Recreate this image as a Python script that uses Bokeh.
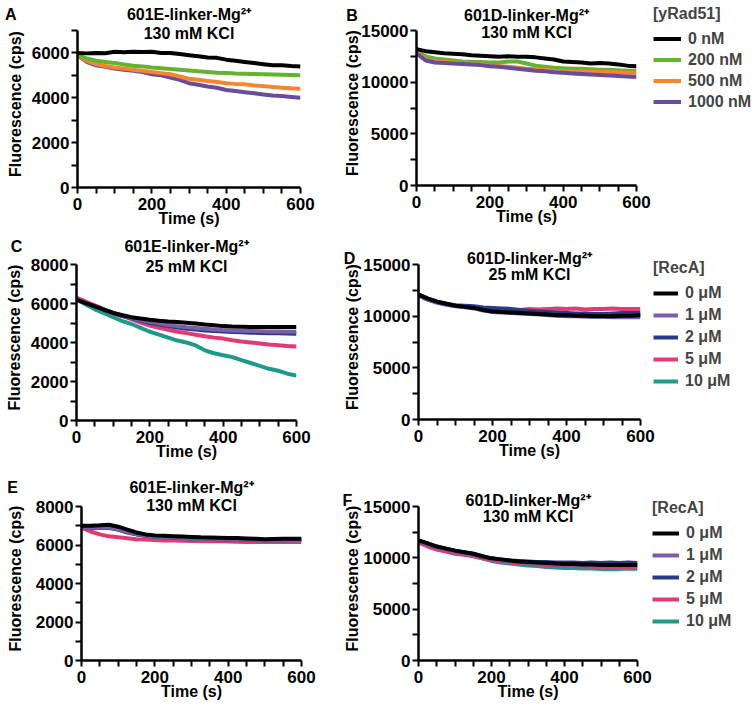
from bokeh.plotting import figure
from bokeh.models import Range1d, FixedTicker, Label, Legend, LegendItem, LinearAxis
from bokeh.layouts import column, row
from bokeh.embed import file_html
from bokeh.resources import INLINE

# ---------------- data ----------------
time_s = [0, 25, 50, 75, 100, 125, 150, 175, 200, 225, 250, 275, 300,
          325, 350, 375, 400, 425, 450, 475, 500, 525, 550, 575, 600]

rad51_labels = ["0 nM", "200 nM", "500 nM", "1000 nM"]
reca_labels = ["0 \u03bcM", "1 \u03bcM", "2 \u03bcM", "5 \u03bcM", "10 \u03bcM"]

# Panel A: 601E-linker-Mg2+, 130 mM KCl, yRad51
a_0 = [6000, 5980, 6000, 5990, 6050, 6030, 6050, 6040, 6050, 6000, 6000, 5950, 5900,
       5850, 5800, 5780, 5700, 5650, 5600, 5550, 5500, 5450, 5450, 5420, 5400]
a_200 = [5900, 5750, 5650, 5600, 5550, 5480, 5430, 5400, 5350, 5320, 5280, 5250, 5220,
         5180, 5150, 5120, 5100, 5080, 5070, 5060, 5050, 5040, 5030, 5020, 5000]
a_500 = [5900, 5650, 5500, 5420, 5350, 5300, 5250, 5200, 5150, 5100, 5050, 4950, 4850,
         4800, 4750, 4700, 4650, 4620, 4600, 4550, 4520, 4480, 4450, 4420, 4400]
a_1000 = [5900, 5600, 5450, 5380, 5300, 5250, 5200, 5150, 5050, 5000, 4900, 4800, 4650,
          4580, 4500, 4450, 4350, 4300, 4250, 4200, 4150, 4100, 4080, 4040, 4000]

# Panel B: 601D-linker-Mg2+, 130 mM KCl, yRad51
b_0 = [13200, 13000, 12900, 12800, 12750, 12700, 12600, 12550, 12500, 12450, 12500, 12450, 12450,
       12400, 12300, 12200, 12000, 11950, 11900, 11800, 11850, 11800, 11700, 11600, 11550]
b_200 = [13000, 12500, 12300, 12200, 12100, 12000, 11950, 11950, 11900, 11900, 12000, 12000, 11800,
         11600, 11500, 11400, 11350, 11300, 11300, 11250, 11200, 11200, 11150, 11100, 11100]
b_500 = [12900, 12200, 12000, 11950, 11900, 11800, 11750, 11700, 11600, 11550, 11500, 11400, 11300,
         11250, 11200, 11100, 11050, 11000, 11000, 11000, 10950, 11000, 10950, 10900, 10900]
b_1000 = [12800, 12100, 11900, 11850, 11800, 11750, 11700, 11650, 11550, 11500, 11400, 11300, 11200,
          11100, 11050, 10950, 10900, 10850, 10800, 10750, 10700, 10650, 10600, 10550, 10500]

# Panel C: 601E-linker-Mg2+, 25 mM KCl, RecA
c_0 = [6200, 6020, 5850, 5680, 5520, 5400, 5300, 5230, 5170, 5120, 5080, 5050, 5010,
       4970, 4920, 4880, 4840, 4820, 4810, 4800, 4800, 4790, 4790, 4790, 4790]
c_1 = [6200, 6020, 5850, 5680, 5520, 5390, 5270, 5160, 5060, 4980, 4900, 4840, 4780,
       4740, 4700, 4670, 4640, 4620, 4600, 4590, 4580, 4570, 4560, 4550, 4550]
c_2 = [6200, 6020, 5850, 5680, 5510, 5370, 5240, 5120, 5010, 4920, 4840, 4770, 4710,
       4660, 4620, 4590, 4560, 4540, 4520, 4500, 4490, 4480, 4470, 4460, 4450]
c_5 = [6300, 6100, 5900, 5700, 5500, 5350, 5200, 5020, 4870, 4750, 4650, 4550, 4480,
       4400, 4320, 4250, 4200, 4120, 4050, 4000, 3950, 3900, 3860, 3820, 3800]
c_10 = [6200, 5950, 5700, 5500, 5300, 5100, 4950, 4750, 4550, 4400, 4250, 4100, 4000,
        3850, 3600, 3450, 3350, 3250, 3100, 2950, 2800, 2650, 2550, 2400, 2300]

# Panel D: 601D-linker-Mg2+, 25 mM KCl, RecA
d_0 = [12100, 11700, 11400, 11200, 11000, 10900, 10800, 10600, 10450, 10400, 10350, 10300, 10250,
       10200, 10150, 10100, 10100, 10050, 10050, 10000, 10000, 10000, 10050, 10050, 10100]
d_1 = [12000, 11600, 11300, 11100, 10950, 10850, 10750, 10550, 10400, 10350, 10300, 10250, 10200,
       10150, 10100, 10050, 10000, 10000, 9950, 9950, 9950, 9900, 9900, 9900, 9900]
d_2 = [12100, 11700, 11400, 11200, 11050, 11000, 10950, 10850, 10800, 10750, 10700, 10600, 10500,
       10450, 10400, 10350, 10300, 10250, 10250, 10200, 10200, 10250, 10300, 10300, 10300]
d_5 = [12100, 11700, 11400, 11200, 11000, 10900, 10850, 10750, 10650, 10600, 10550, 10600, 10700,
       10650, 10700, 10750, 10700, 10750, 10650, 10700, 10700, 10750, 10700, 10700, 10700]
d_10 = [12000, 11600, 11350, 11150, 11000, 10900, 10800, 10650, 10500, 10450, 10400, 10350, 10300,
        10250, 10200, 10150, 10150, 10100, 10100, 10100, 10100, 10100, 10100, 10100, 10150]

# Panel E: 601E-linker-Mg2+, 130 mM KCl, RecA
e_0 = [7000, 7000, 7020, 7050, 6950, 6800, 6650, 6550, 6500, 6480, 6460, 6440, 6420,
       6400, 6390, 6380, 6370, 6360, 6340, 6320, 6300, 6310, 6320, 6330, 6330]
e_1 = [6950, 6920, 6920, 6920, 6820, 6680, 6570, 6490, 6440, 6410, 6390, 6370, 6350,
       6330, 6320, 6310, 6300, 6290, 6280, 6270, 6260, 6260, 6260, 6260, 6260]
e_2 = [6950, 6900, 6900, 6900, 6800, 6660, 6560, 6480, 6430, 6400, 6380, 6360, 6340,
       6320, 6310, 6300, 6290, 6280, 6270, 6260, 6250, 6250, 6250, 6260, 6260]
e_5 = [6900, 6700, 6550, 6450, 6400, 6350, 6300, 6280, 6260, 6240, 6230, 6220, 6210,
       6200, 6200, 6190, 6180, 6170, 6160, 6150, 6150, 6150, 6150, 6150, 6150]
e_10 = [6950, 6900, 6900, 6900, 6800, 6650, 6550, 6480, 6430, 6400, 6380, 6360, 6340,
        6320, 6310, 6300, 6290, 6280, 6270, 6260, 6250, 6250, 6250, 6250, 6250]

# Panel F: 601D-linker-Mg2+, 130 mM KCl, RecA
f_0 = [11700, 11400, 11100, 10900, 10700, 10550, 10400, 10150, 9950, 9850, 9750, 9650, 9600,
       9550, 9500, 9450, 9400, 9400, 9350, 9350, 9300, 9300, 9300, 9300, 9300]
f_1 = [11600, 11300, 11000, 10800, 10600, 10450, 10300, 10050, 9850, 9750, 9650, 9550, 9500,
       9450, 9400, 9350, 9350, 9300, 9300, 9250, 9250, 9250, 9250, 9250, 9250]
f_2 = [11700, 11400, 11100, 10900, 10700, 10550, 10400, 10150, 9950, 9850, 9750, 9700, 9650,
       9600, 9600, 9550, 9550, 9550, 9500, 9550, 9500, 9550, 9500, 9550, 9500]
f_5 = [11500, 11100, 10800, 10600, 10400, 10300, 10150, 9950, 9750, 9650, 9550, 9450, 9400,
       9350, 9300, 9250, 9200, 9200, 9150, 9150, 9100, 9150, 9100, 9100, 9100]
f_10 = [11600, 11200, 10900, 10700, 10500, 10350, 10200, 9950, 9700, 9550, 9450, 9350, 9250,
        9200, 9100, 9050, 9000, 9000, 8950, 8950, 8900, 8900, 8900, 8950, 8900]

x_major = [0, 200, 400, 600]
x_minor = [50, 100, 150, 250, 300, 350, 450, 500, 550]
y7_major = [0, 2000, 4000, 6000]
y7_minor = [1000, 3000, 5000, 7000]
y8_major = [0, 2000, 4000, 6000, 8000]
y8_minor = [1000, 3000, 5000, 7000]
y15_major = [0, 5000, 10000, 15000]
y15_minor = [2500, 7500, 12500]

TITLE_E = "601E-linker-Mg\u00b2\u207a"
TITLE_D = "601D-linker-Mg\u00b2\u207a"

# ---------------- style ----------------
FONT = "Liberation Sans"
RAD_COLORS = ["#000000", "#63b32e", "#f5852f", "#6a4c9c"]
RECA_COLORS = ["#000000", "#7b5ea7", "#283a8a", "#e23a72", "#1f9a8a"]
LW = 4
NBSP = "\u00a0"
EXT = 10  # extra frame height above the y axis end (room for the title text)


def make_panel(ymax, ymaj, ymin, fw, fh, bl, br, bt, bb, ylab_standoff):
    p = figure(x_range=Range1d(0, 600), y_range=Range1d(0, ymax * (fh + EXT) / fh),
               frame_width=fw, frame_height=fh + EXT,
               min_border_left=bl, min_border_right=br,
               min_border_top=bt - EXT, min_border_bottom=bb,
               output_backend="svg", toolbar_location=None,
               x_axis_label="Time (s)", y_axis_label="Fluorescence (cps)")
    p.xgrid.visible = False
    p.ygrid.visible = False
    p.outline_line_color = None
    p.xaxis.ticker = FixedTicker(ticks=x_major, minor_ticks=x_minor)
    p.yaxis.ticker = FixedTicker(ticks=ymaj, minor_ticks=ymin)
    p.yaxis.bounds = (0, ymax)
    for ax in p.axis:
        ax.axis_line_width = 2.5
        ax.axis_line_color = "black"
        ax.major_tick_line_width = 2
        ax.minor_tick_line_width = 2
        ax.major_tick_line_color = "black"
        ax.minor_tick_line_color = "black"
        ax.major_tick_in = 0
        ax.major_tick_out = 6
        ax.minor_tick_in = 0
        ax.minor_tick_out = 6
        ax.major_label_text_font = FONT
        ax.major_label_text_font_style = "bold"
        ax.major_label_text_font_size = "17px"
        ax.major_label_text_color = "black"
        ax.axis_label_text_font = FONT
        ax.axis_label_text_font_style = "bold"
        ax.axis_label_text_font_size = "16px"
        ax.axis_label_text_color = "black"
    p.xaxis.major_label_standoff = 4
    p.xaxis.axis_label_standoff = -3
    p.yaxis.major_label_standoff = 2
    p.yaxis.axis_label_standoff = ylab_standoff
    return p


def add_texts(p, ymax, letter, pad, line1, line2, t2, head_standoff):
    # panel letter + first title line as labels of a bare top axis
    top = LinearAxis(ticker=FixedTicker(ticks=[0, 300], minor_ticks=[]),
                     major_label_overrides={0: letter + NBSP * pad, 300: line1},
                     axis_line_color=None, major_tick_line_color=None,
                     major_tick_in=0, major_tick_out=0,
                     major_label_standoff=head_standoff - EXT,
                     major_label_text_font=FONT, major_label_text_font_style="bold",
                     major_label_text_font_size="16px", major_label_text_color="black")
    p.add_layout(top, "above")
    p.add_layout(Label(x=300, y=ymax, y_offset=t2, text=line2, text_align="center",
                       text_baseline="middle", text_font=FONT, text_font_style="bold",
                       text_font_size="16px", text_color="black"))


def add_lines(p, series, colors, order):
    rends = [None] * len(series)
    for i in order:
        rends[i] = p.line(time_s, series[i], line_color=colors[i], line_width=LW)
    return rends


def add_legend(p, title, labels, rends, loc, row_h, glyph_w):
    items = [LegendItem(label=l, renderers=[r]) for l, r in zip(labels, rends)]
    lg = Legend(items=items, location=loc, title=title,
                title_text_font=FONT, title_text_font_style="bold", title_text_font_size="16px",
                label_text_font=FONT, label_text_font_style="bold", label_text_font_size="16px",
                glyph_width=glyph_w, glyph_height=row_h, label_height=row_h, spacing=0,
                padding=0, margin=0, label_standoff=7, title_standoff=5,
                background_fill_alpha=0, border_line_alpha=0)
    p.add_layout(lg, "right")


# Row 1
pA = make_panel(7000, y7_major, y7_minor, 223, 157, 77, 40, 30, 47, 5)
add_lines(pA, [a_0, a_200, a_500, a_1000], RAD_COLORS, [3, 2, 1, 0])
add_texts(pA, 7000, "A", 30, TITLE_E, "130 mM KCl", -3, 8)

pB = make_panel(15000, y15_major, y15_minor, 220, 155, 76, 115, 28, 51, -3)
rb = add_lines(pB, [b_0, b_200, b_500, b_1000], RAD_COLORS, [1, 2, 3, 0])
add_texts(pB, 15000, "B", 29, TITLE_D, "130 mM KCl", -2, 7)
add_legend(pB, "[yRad51]", rad51_labels, rb, (17, 73), 21, 28)

# Row 2
pC = make_panel(8000, y8_major, y8_minor, 220, 156, 76, 44, 29, 53, 5)
add_lines(pC, [c_0, c_1, c_2, c_5, c_10], RECA_COLORS, [4, 3, 2, 1, 0])
add_texts(pC, 8000, "C", 27, TITLE_E, "25 mM KCl", -2, 10)

pD = make_panel(15000, y15_major, y15_minor, 222, 155, 78, 110, 29, 54, -1)
rd = add_lines(pD, [d_0, d_1, d_2, d_5, d_10], RECA_COLORS, [4, 3, 2, 1, 0])
add_texts(pD, 15000, "D", 31, TITLE_D, "25 mM KCl", -10, -2)
add_legend(pD, "[RecA]", reca_labels, rd, (13, 27), 22, 25)

# Row 3
pE = make_panel(8000, y8_major, y8_minor, 220, 154, 81, 39, 32, 46, 9)
add_lines(pE, [e_0, e_1, e_2, e_5, e_10], RECA_COLORS, [3, 4, 2, 1, 0])
add_texts(pE, 8000, "E", 31, TITLE_E, "130 mM KCl", 1, 11)

pF = make_panel(15000, y15_major, y15_minor, 219, 154, 78, 113, 33, 45, -1)
rf = add_lines(pF, [f_0, f_1, f_2, f_5, f_10], RECA_COLORS, [4, 3, 2, 1, 0])
add_texts(pF, 15000, "F", 32, TITLE_D, "130 mM KCl", -10, -2)
add_legend(pF, "[RecA]", reca_labels, rf, (15, 28), 22, 27)

layout = column(row(pA, pB), row(pC, pD), row(pE, pF))

open("out.html", "w").write(file_html(layout, INLINE))
